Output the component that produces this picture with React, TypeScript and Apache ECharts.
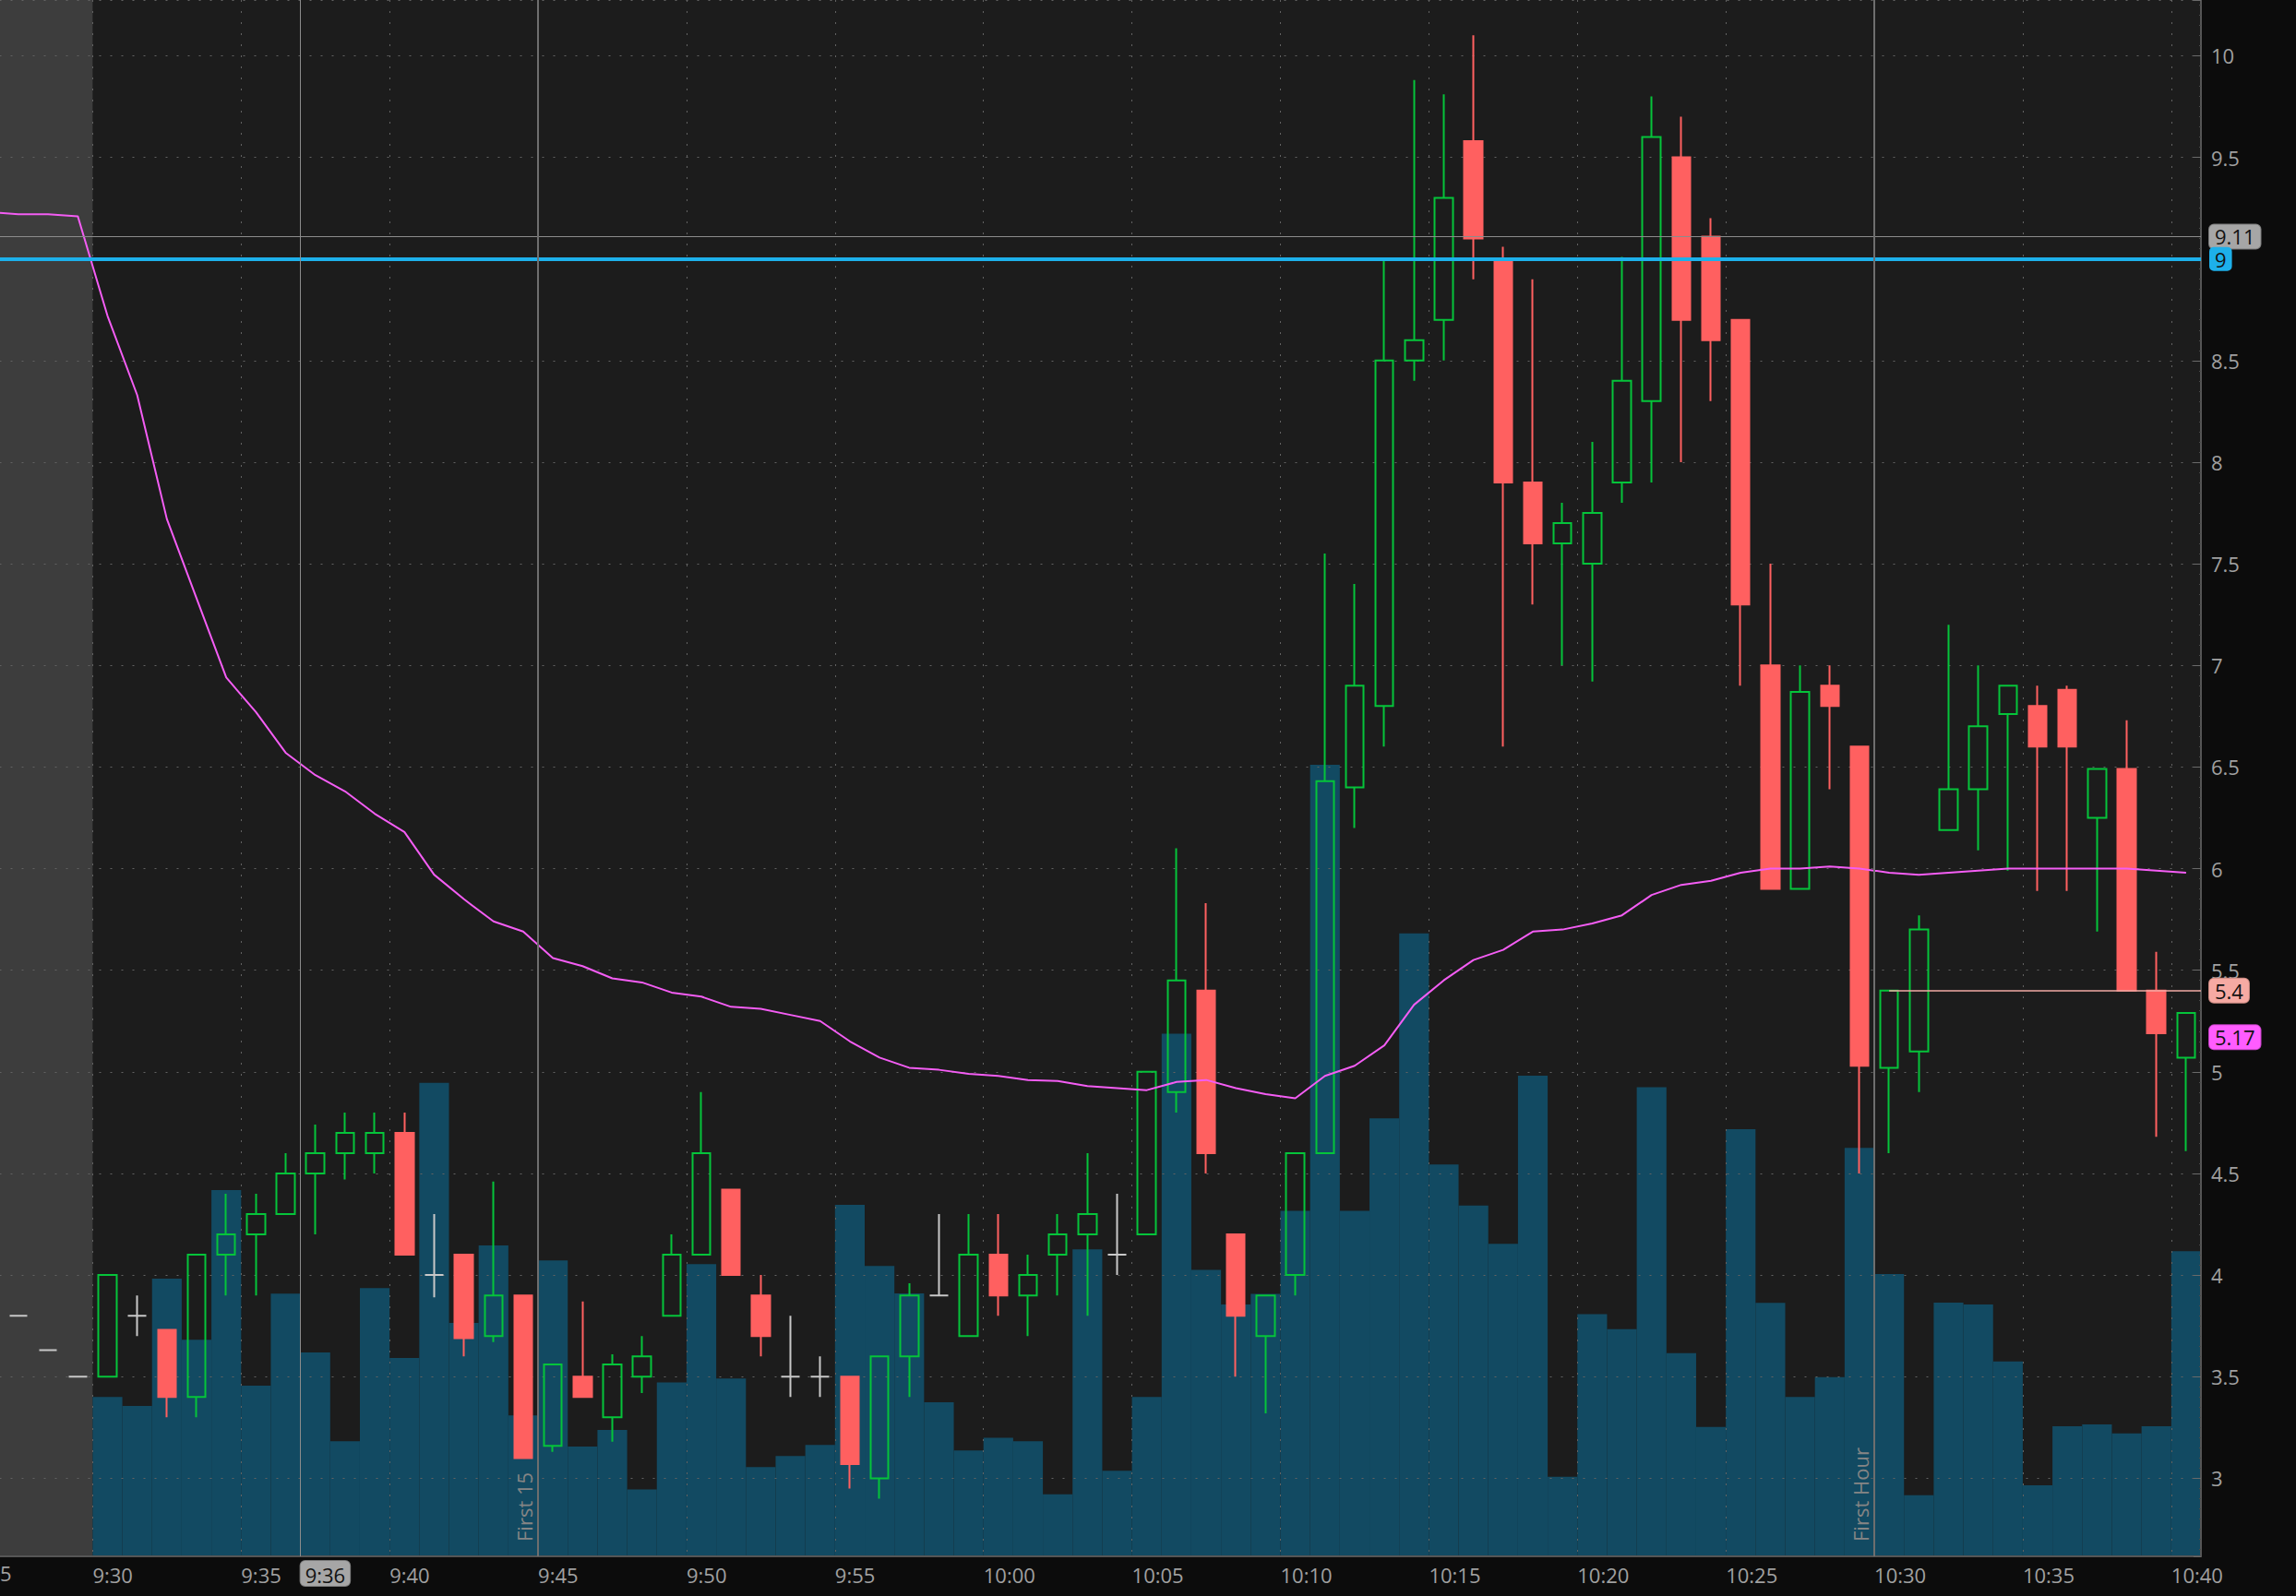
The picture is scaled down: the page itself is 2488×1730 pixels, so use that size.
import React, { useEffect, useRef } from "react";
import * as echarts from "echarts";

// ---------- DATA ----------
const times: string[] = [
  "9:25", "9:26", "9:27", "9:28", "9:29",
  "9:30", "9:31", "9:32", "9:33", "9:34", "9:35", "9:36", "9:37", "9:38", "9:39",
  "9:40", "9:41", "9:42", "9:43", "9:44", "9:45", "9:46", "9:47", "9:48", "9:49",
  "9:50", "9:51", "9:52", "9:53", "9:54", "9:55", "9:56", "9:57", "9:58", "9:59",
  "10:00", "10:01", "10:02", "10:03", "10:04", "10:05", "10:06", "10:07", "10:08", "10:09",
  "10:10", "10:11", "10:12", "10:13", "10:14", "10:15", "10:16", "10:17", "10:18", "10:19",
  "10:20", "10:21", "10:22", "10:23", "10:24", "10:25", "10:26", "10:27", "10:28", "10:29",
  "10:30", "10:31", "10:32", "10:33", "10:34", "10:35", "10:36", "10:37", "10:38", "10:39",
  "10:40",
];

const opens: (number | null)[] = [
  null, null, 3.80, 3.63, 3.50,
  3.50, 3.80, 3.73, 3.40, 4.10, 4.20, 4.30, 4.50, 4.60, 4.60,
  4.70, 4.00, 4.10, 3.70, 3.90, 3.16, 3.50, 3.30, 3.50, 3.80,
  4.10, 4.42, 3.90, 3.50, 3.50, 3.50, 3.00, 3.60, 3.90, 3.70,
  4.10, 3.90, 4.10, 4.20, 4.10, 4.20, 4.90, 5.40, 4.20, 3.70,
  4.00, 4.60, 6.40, 6.80, 8.50, 8.70, 9.58, 9.00, 7.90, 7.60,
  7.50, 7.90, 8.30, 9.50, 9.11, 8.70, 7.00, 5.90, 6.90, 6.60,
  5.02, 5.10, 6.19, 6.39, 6.76, 6.80, 6.88, 6.25, 6.49, 5.40,
  5.07,
];
const highs: (number | null)[] = [
  null, null, 3.80, 3.63, 3.50,
  4.00, 3.90, 3.73, 4.10, 4.40, 4.40, 4.60, 4.74, 4.80, 4.80,
  4.80, 4.30, 4.10, 4.46, 3.90, 3.56, 3.87, 3.61, 3.70, 4.20,
  4.90, 4.42, 4.00, 3.80, 3.60, 3.50, 3.60, 3.96, 4.30, 4.30,
  4.30, 4.10, 4.30, 4.60, 4.40, 5.00, 6.10, 5.83, 4.20, 3.90,
  4.60, 7.55, 7.40, 9.00, 9.88, 9.81, 10.10, 9.06, 8.90, 7.80,
  8.10, 9.01, 9.80, 9.70, 9.20, 8.70, 7.50, 7.00, 7.00, 6.60,
  5.40, 5.77, 7.20, 7.00, 6.90, 6.90, 6.90, 6.49, 6.73, 5.59,
  5.29,
];
const lows: (number | null)[] = [
  null, null, 3.80, 3.63, 3.50,
  3.50, 3.70, 3.30, 3.30, 3.90, 3.90, 4.30, 4.20, 4.47, 4.50,
  4.10, 3.89, 3.60, 3.67, 3.10, 3.13, 3.40, 3.18, 3.42, 3.80,
  4.10, 4.00, 3.60, 3.40, 3.40, 2.95, 2.90, 3.40, 3.90, 3.70,
  3.80, 3.70, 3.90, 3.80, 4.00, 4.20, 4.80, 4.50, 3.50, 3.32,
  3.90, 4.60, 6.20, 6.60, 8.40, 8.50, 8.90, 6.60, 7.30, 7.00,
  6.92, 7.80, 7.90, 8.00, 8.30, 6.90, 5.90, 5.90, 6.39, 4.50,
  4.60, 4.90, 6.19, 6.09, 5.99, 5.89, 5.89, 5.69, 5.40, 4.68,
  4.61,
];
const closes: (number | null)[] = [
  null, null, 3.80, 3.63, 3.50,
  4.00, 3.80, 3.40, 4.10, 4.20, 4.30, 4.50, 4.60, 4.70, 4.70,
  4.10, 4.00, 3.69, 3.90, 3.10, 3.56, 3.40, 3.56, 3.60, 4.10,
  4.60, 4.00, 3.70, 3.50, 3.50, 3.07, 3.60, 3.90, 3.90, 4.10,
  3.90, 4.00, 4.20, 4.30, 4.10, 5.00, 5.45, 4.60, 3.80, 3.90,
  4.60, 6.43, 6.90, 8.50, 8.60, 9.30, 9.10, 7.90, 7.60, 7.70,
  7.75, 8.40, 9.60, 8.70, 8.60, 7.30, 5.90, 6.87, 6.80, 5.03,
  5.40, 5.70, 6.39, 6.70, 6.90, 6.60, 6.60, 6.49, 5.40, 5.19,
  5.29,
];
// volume, thousands of shares
const volumes: (number | null)[] = [
  null, null, null, null, null,
  51.2, 48.3, 89.2, 69.6, 117.7, 54.8, 84.4, 65.5, 37.0, 86.2,
  63.7, 152.1, 75.0, 99.9, 45.3, 95.1, 35.3, 40.6, 21.5, 55.9,
  93.9, 57.1, 28.7, 32.2, 35.8, 112.9, 93.3, 84.5, 49.5, 34.0,
  38.1, 37.0, 19.9, 98.6, 27.5, 51.2, 167.9, 92.0, 80.9, 84.3,
  111.0, 254.3, 111.0, 140.7, 200.1, 125.9, 112.7, 100.4, 154.4, 25.6,
  77.8, 73.0, 150.7, 65.3, 41.6, 137.2, 81.4, 51.2, 57.6, 131.2,
  90.7, 19.6, 81.5, 80.9, 62.6, 22.8, 41.8, 42.4, 39.5, 41.8,
  98.0,
];
const vwap: (number | null)[] = [
  null, 9.23, 9.22, 9.22, 9.21,
  8.72, 8.33, 7.72, 7.33, 6.94, 6.77, 6.57, 6.46, 6.38, 6.27,
  6.18, 5.97, 5.85, 5.74, 5.69, 5.56, 5.52, 5.46, 5.44, 5.39,
  5.37, 5.32, 5.31, 5.28, 5.25, 5.15, 5.07, 5.02, 5.01, 4.99,
  4.98, 4.96, 4.955, 4.93, 4.92, 4.91, 4.95, 4.96, 4.92, 4.89,
  4.87, 4.98, 5.03, 5.13, 5.33, 5.45, 5.55, 5.60, 5.69, 5.70,
  5.73, 5.77, 5.87, 5.92, 5.94, 5.98, 6.00, 6.00, 6.01, 6.00,
  5.98, 5.97, 5.98, 5.99, 6.00, 6.00, 6.00, 6.00, 6.00, 5.99,
  5.98,
];

const sessionOpen = "9:30";
const first15Time = "9:45";
const firstHourTime = "10:30";
const crosshairTime = "9:36";
const crosshairPrice = 9.11;
const alertPrice = 9;
const levelPrice = 5.4;
const levelStart = "10:30";
const lastTagPrice = 5.17;
const priceMin = 2.616;
const priceMax = 10.274;
const volumeMax = 500;

// ---------- HELPERS ----------
const openIdx = times.indexOf(sessionOpen);
const off = (t: string) => times.indexOf(t) - openIdx; // slot start, minutes from open
const xMin = -openIdx;
const xMax = times.length - openIdx;

const FONT = "Open Sans";
const LABEL = "#a0a0a0";

function tag(text: string, bg: string, extra: any = {}) {
  return {
    show: true,
    position: "end",
    distance: 9,
    formatter: () => text,
    backgroundColor: bg,
    color: "#121212",
    borderRadius: 5,
    padding: [1, 6, 0, 6],
    fontSize: 22,
    lineHeight: 25,
    fontFamily: FONT,
    ...extra,
  };
}

function buildOption(): any {
  const ohlc = times.map((_, i) =>
    opens[i] == null
      ? ["-", "-", "-", "-"]
      : [opens[i], closes[i], lows[i], highs[i]]
  );
  const dotted = { color: "#626262", width: 1, type: [2, 10] };

  return {
    backgroundColor: "#0c0c0c",
    animation: false,
    textStyle: { fontFamily: FONT },
    grid: {
      left: -60.5,
      right: 103,
      top: 0,
      bottom: 43,
      show: true,
      backgroundColor: "#1c1c1c",
      borderWidth: 0,
      containLabel: false,
      outerBoundsMode: "none",
    },
    xAxis: [
      { type: "category", data: times, boundaryGap: true, show: false },
      {
        type: "value",
        min: xMin,
        max: xMax,
        interval: 5,
        position: "bottom",
        z: 1.5,
        axisLine: { show: true, onZero: false, lineStyle: { color: "#555", width: 2 } },
        axisTick: { show: false },
        axisLabel: {
          formatter: (v: number) => times[v + openIdx] ?? "",
          align: "left",
          color: LABEL,
          fontSize: 22,
          fontFamily: FONT,
          margin: 9,
          showMinLabel: true,
          showMaxLabel: false,
        },
        splitLine: { show: true, lineStyle: dotted },
      },
    ],
    yAxis: [
      {
        type: "value",
        position: "right",
        min: priceMin,
        max: priceMax,
        splitNumber: 15,
        minInterval: 0.5,
        maxInterval: 0.5,
        z: 1.5,
        axisLine: { show: true, onZero: false, lineStyle: { color: "#555", width: 2 } },
        axisTick: { show: true, inside: true, length: 8, lineStyle: { color: "#6a6a6a", width: 1 } },
        minorTick: { show: true, splitNumber: 10, length: 2, lineStyle: { color: "#4a4a4a" } },
        axisLabel: {
          color: LABEL,
          fontSize: 22,
          fontFamily: FONT,
          margin: 11,
          showMinLabel: false,
          showMaxLabel: false,
        },
        splitLine: { show: true, lineStyle: dotted },
      },
      {
        type: "value",
        min: 0,
        max: volumeMax,
        show: false,
        axisLine: { onZero: false },
        splitLine: { show: false },
      },
    ],
    graphic: [
      {
        type: "text",
        left: 0,
        top: 1694,
        style: { text: "5", fill: LABEL, font: `22px "${FONT}"` },
      },
    ],
    series: [
      {
        name: "markers",
        type: "line",
        xAxisIndex: 1,
        yAxisIndex: 0,
        data: [],
        symbol: "none",
        silent: true,
        markArea: {
          silent: true,
          itemStyle: { color: "#3d3d3d" },
          data: [[{ xAxis: xMin }, { xAxis: 0 }]],
        },
        markLine: {
          silent: true,
          symbol: ["none", "none"],
          animation: false,
          data: [
            {
              yAxis: crosshairPrice,
              lineStyle: { color: "#8c8c8c", width: 1, type: "solid" },
              label: tag(String(crosshairPrice), "#a6a6a6", { borderColor: "#7a7a7a", borderWidth: 1 }),
            },
            {
              yAxis: alertPrice,
              lineStyle: { color: "#1db0ea", width: 4, type: "solid" },
              label: tag(String(alertPrice), "#1db0ea"),
            },
            [
              {
                coord: [off(levelStart) + 0.5, levelPrice],
                lineStyle: { color: "#f2aaa5", width: 1.5, type: "solid" },
                label: tag(String(levelPrice), "#f6aaa3", { borderColor: "#c98880", borderWidth: 1 }),
              },
              { coord: [xMax, levelPrice] },
            ],
            {
              yAxis: lastTagPrice,
              lineStyle: { color: "rgba(0,0,0,0)", width: 1, type: "solid" },
              label: tag(String(lastTagPrice), "#ff5cff", { borderColor: "#c040c0", borderWidth: 1 }),
            },
            {
              xAxis: off(crosshairTime) + 1,
              lineStyle: { color: "#8c8c8c", width: 1, type: "solid" },
              label: tag(crosshairTime, "#a6a6a6", {
                position: "start",
                align: "left",
                distance: 5,
                borderColor: "#7a7a7a",
                borderWidth: 1,
                padding: [2, 5, 0, 5],
              }),
            },
            {
              xAxis: off(first15Time),
              lineStyle: { color: "#6e6e6e", width: 2, type: "solid" },
              label: {
                show: true,
                position: "insideStartTop",
                formatter: () => "First 15",
                color: "#858585",
                fontSize: 22,
                fontFamily: FONT,
                distance: [16, 4],
              },
            },
            {
              xAxis: off(firstHourTime),
              lineStyle: { color: "#6e6e6e", width: 2, type: "solid" },
              label: {
                show: true,
                position: "insideStartTop",
                formatter: () => "First Hour",
                color: "#858585",
                fontSize: 22,
                fontFamily: FONT,
                distance: [16, 4],
              },
            },
          ],
        },
      },
      {
        name: "Volume",
        type: "bar",
        xAxisIndex: 0,
        yAxisIndex: 1,
        data: volumes,
        barWidth: "100%",
        z: 1.2,
        silent: true,
        itemStyle: { color: "#124a62" },
      },
      {
        name: "Price",
        type: "candlestick",
        xAxisIndex: 0,
        yAxisIndex: 0,
        data: ohlc,
        barWidth: 20,
        z: 3,
        silent: true,
        itemStyle: {
          color: "rgba(0,0,0,0)",
          color0: "#ff6060",
          borderColor: "#05c43a",
          borderColor0: "#ff6060",
          borderColorDoji: "#c8c8c8",
          borderWidth: 2,
        },
      },
      {
        name: "VWAP",
        type: "line",
        xAxisIndex: 0,
        yAxisIndex: 0,
        data: vwap,
        symbol: "none",
        z: 4,
        silent: true,
        lineStyle: { color: "#f45df4", width: 2 },
      },
    ],
  };
}

export default function App() {
  const ref = useRef<HTMLDivElement>(null);
  useEffect(() => {
    if (!ref.current) return;
    const chart = echarts.init(ref.current, null, { renderer: "svg" });
    chart.setOption(buildOption());
    return () => chart.dispose();
  }, []);
  return (
    <div
      ref={ref}
      style={{ position: "fixed", left: 0, top: 0, width: 2488, height: 1730 }}
    />
  );
}
